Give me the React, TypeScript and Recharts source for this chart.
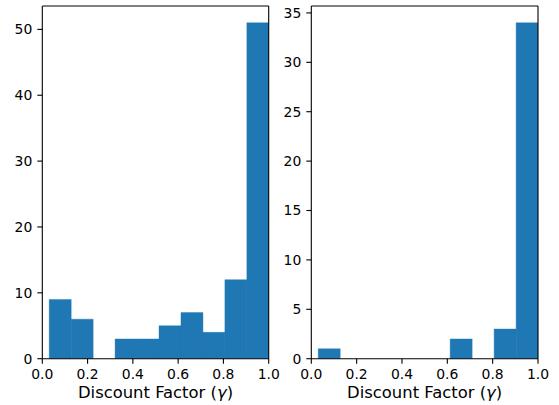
import React from 'react';
import { BarChart, Bar, XAxis, YAxis, Label } from 'recharts';

const binCenters = [0.079, 0.176, 0.273, 0.37, 0.467, 0.564, 0.661, 0.758, 0.855, 0.952];
const leftCounts = [9, 6, 0, 3, 3, 5, 7, 4, 12, 51];
const rightCounts = [1, 0, 0, 0, 0, 0, 2, 0, 3, 34];
const xTicks = [0, 0.2, 0.4, 0.6, 0.8, 1.0];
const leftYTicks = [0, 10, 20, 30, 40, 50];
const rightYTicks = [0, 5, 10, 15, 20, 25, 30, 35];
const xLabelText = 'Discount Factor';
const xLabelSymbol = 'γ';
const barColor = '#1f77b4';

const FONT = 'DejaVu Sans, sans-serif';

type PanelProps = {
  counts: number[];
  yTicks: number[];
  yMax: number;
  width: number;
  yAxisWidth: number;
  marginRight: number;
};

function AxisTitle(props: any) {
  const vb = props.viewBox || {};
  const cx = (vb.x ?? 0) + (vb.width ?? 0) / 2;
  const y = (vb.y ?? 0) + (vb.height ?? 0) - 7;
  return (
    <text x={cx} y={y} textAnchor="middle" fontSize={16.4} fill="#000" fontFamily={FONT}>
      {xLabelText} (<tspan fontStyle="italic">{xLabelSymbol}</tspan>)
    </text>
  );
}

function Panel({ counts, yTicks, yMax, width, yAxisWidth, marginRight }: PanelProps) {
  const data = binCenters.map((x, i) => ({ x, count: counts[i] }));
  const tickStyle = { fontSize: 13.9, fill: '#000', fontFamily: FONT };
  const line = { stroke: '#000', strokeWidth: 1.1 };
  return (
    <BarChart
      width={width}
      height={405}
      data={data}
      margin={{ top: 5, right: marginRight, bottom: 0, left: 0 }}
      barCategoryGap={0}
      barGap={0}
    >
      <XAxis
        xAxisId="num"
        dataKey="x"
        type="number"
        domain={[0, 1]}
        ticks={xTicks}
        allowDataOverflow
        tickFormatter={(v: number) => v.toFixed(1)}
        tick={tickStyle}
        tickSize={5}
        tickMargin={5}
        height={46.3}
        axisLine={line}
        tickLine={line}
      >
        <Label content={AxisTitle} />
      </XAxis>
      <XAxis
        xAxisId="top"
        orientation="top"
        type="number"
        domain={[0, 1]}
        tick={false}
        tickLine={false}
        height={1}
        axisLine={line}
      />
      <YAxis
        yAxisId="left"
        domain={[0, yMax]}
        ticks={yTicks}
        allowDataOverflow
        width={yAxisWidth}
        tick={tickStyle}
        tickSize={5}
        tickMargin={5}
        axisLine={line}
        tickLine={line}
      />
      <YAxis
        yAxisId="right"
        orientation="right"
        domain={[0, yMax]}
        tick={false}
        tickLine={false}
        width={1}
        axisLine={line}
      />
      <Bar
        xAxisId="num"
        yAxisId="left"
        dataKey="count"
        fill={barColor}
        stroke={barColor}
        strokeWidth={0.4}
        isAnimationActive={false}
      />
    </BarChart>
  );
}

export default function App() {
  return (
    <div style={{ position: 'absolute', left: 0, top: 0, width: 559, height: 405, display: 'flex', background: '#fff' }}>
      <Panel
        counts={leftCounts}
        yTicks={leftYTicks}
        yMax={53.55}
        width={280}
        yAxisWidth={42.3}
        marginRight={10.3}
      />
      <Panel
        counts={rightCounts}
        yTicks={rightYTicks}
        yMax={35.7}
        width={279}
        yAxisWidth={31.3}
        marginRight={20}
      />
    </div>
  );
}
